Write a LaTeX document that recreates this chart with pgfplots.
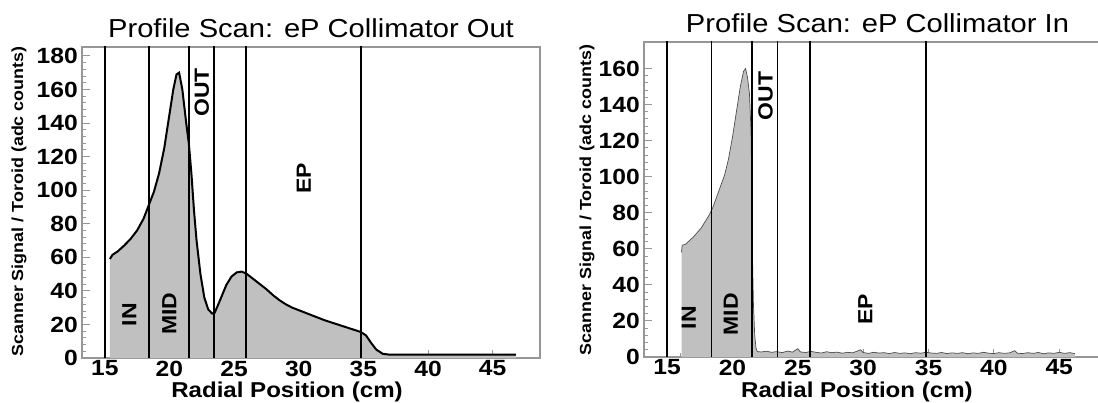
\documentclass[border=0pt]{standalone}
\usepackage{fontspec}
\setmainfont{Liberation Sans}[FakeStretch=1.12]
\usepackage{pgfplots}
\pgfplotsset{compat=1.18}
\definecolor{histfill}{RGB}{192,192,192}
\definecolor{framegray}{RGB}{150,150,150}

\pgfplotstableread{
x y
15.40 59
15.60 61.5
16.00 63.5
16.50 67
17.00 71
17.50 76
18.00 83
18.40 91
18.80 99
19.20 110
19.60 125
20.00 145
20.30 160
20.55 169
20.75 170
21.00 160
21.30 140
21.50 128
21.70 110
21.90 88
22.10 70
22.40 50
22.70 36
23.00 29
23.30 26.5
23.50 27
23.70 30.5
24.00 36
24.40 43.5
24.80 48.5
25.20 51
25.60 51.5
26.00 50
26.50 47
27.00 44
27.50 41
28.00 37.5
28.50 34.5
29.00 32
29.50 30
30.00 28.5
31.00 25.5
32.00 22.5
33.00 20
34.00 17.5
34.80 15.5
35.20 13.5
35.60 9
36.00 5
36.50 2.5
37.00 2
40.00 2
45.00 2
46.80 2
}\collout

\pgfplotstableread{
x y
16.10 58
16.15 62
16.40 62.5
16.70 64.5
17.00 66.5
17.30 69
17.60 71.5
17.90 75
18.20 78.5
18.50 83
18.80 89
19.10 95
19.40 101
19.70 110
20.00 122
20.30 136
20.60 150
20.85 158.5
21.00 160
21.15 155
21.30 146
21.42 125
21.48 90
21.53 55
21.60 30
21.70 12
21.80 5
21.90 3
22.20 2.8
22.60 3.2
23.00 2.6
23.40 3.0
23.80 2.4
24.20 3.3
24.60 2.7
25.00 4.6
25.20 2.8
25.60 2.5
26.00 3.1
26.40 2.6
26.80 2.2
27.20 2.9
27.60 2.4
28.00 2.7
28.40 2.1
28.80 2.6
29.20 2.3
29.80 4.0
30.00 2.5
30.40 2.0
30.80 2.6
31.20 2.2
31.60 2.4
32.00 1.9
32.40 2.5
32.80 2.0
33.20 2.3
33.60 1.8
34.00 2.4
34.40 2.1
34.80 2.6
35.20 2.2
35.60 2.0
36.00 2.5
36.40 1.9
36.80 2.3
37.20 2.0
37.60 2.4
38.00 1.8
38.40 2.3
38.80 2.0
39.20 2.6
39.60 2.1
40.00 1.9
40.40 2.4
40.80 2.0
41.20 2.3
41.60 3.5
41.80 2.1
42.20 1.9
42.60 2.4
43.00 2.0
43.40 2.5
43.80 1.8
44.20 2.3
44.60 2.0
45.00 2.6
45.40 2.0
45.80 2.4
46.20 1.9
}\collin

\tikzset{
  region/.style={rotate=90, font=\bfseries\fontsize{20.5}{20.5}\selectfont, inner sep=0pt},
  sep/.style={black, line width=1.8pt},
}

\pgfplotsset{rootstyle/.style={
  scale only axis,
  axis line style={framegray, line width=1.1pt},
  tick style={framegray, line width=1pt},
  major tick length=8pt, minor tick length=4pt,
  tick align=inside, tick pos=left,
  xtick={15,20,...,45}, minor x tick num=4,
  ytick={0,20,...,180}, minor y tick num=4,
  ymin=0,
  /pgf/number format/assume math mode=true,
  ticklabel style={font=\bfseries\fontsize{22}{22}\selectfont, inner sep=0pt},
  xticklabel style={yshift=-2.5pt},
  yticklabel style={xshift=-4pt},
  title style={font=\fontsize{26}{26}\selectfont, anchor=base, inner sep=0pt},
  xlabel style={font=\bfseries\fontsize{21.5}{21.5}\selectfont, anchor=base, inner sep=0pt},
  ylabel style={font=\bfseries\fontsize{16}{16}\selectfont, anchor=center, inner sep=0pt},
  xlabel={Radial Position (cm)},
  ylabel={Scanner Signal / Toroid (adc counts)},
}}

\begin{document}
\begin{tikzpicture}
\useasboundingbox (0,0) rectangle (1098pt,402pt);

\begin{axis}[rootstyle,
  at={(82pt,44pt)}, anchor=south west, width=458pt, height=311pt,
  xmin=13.24, xmax=48.66, ymax=185.3,
  title={Profile Scan: eP Collimator Out},
  title style={at={(0.5,1.0113)}},
  xlabel style={at={(0.4476,-0.1265)}},
  ylabel style={at={(-0.1376,0.503)}}]
\addplot[draw=none, fill=histfill] table {\collout} \closedcycle;
\addplot[black, line width=2pt] table {\collout};
\addplot[sep] coordinates {(15,0) (15,200)};
\addplot[sep] coordinates {(18.4,0) (18.4,200)};
\addplot[sep] coordinates {(21.5,0) (21.5,200)};
\addplot[sep] coordinates {(23.45,0) (23.45,200)};
\addplot[sep] coordinates {(25.95,0) (25.95,200)};
\addplot[sep] coordinates {(34.8,0) (34.8,200)};
\node[region] at (axis cs:16.9,25.8) {IN};
\node[region] at (axis cs:20.0,26.4) {MID};
\node[region] at (axis cs:22.5,158.2) {OUT};
\node[region] at (axis cs:30.4,107) {EP};
\end{axis}

\begin{axis}[rootstyle,
  at={(644pt,45pt)}, anchor=south west, width=467pt, height=315pt,
  xmin=13.23, xmax=48.96, ymax=174.7,
  ytick={0,20,...,160},
  title={Profile Scan: eP Collimator In},
  title style={at={(0.5,1.011)}},
  xlabel style={at={(0.456,-0.1275)}},
  ylabel style={at={(-0.122,0.498)}}]
\addplot[draw=none, fill=histfill] table {\collin} \closedcycle;
\addplot[black!70, line width=0.7pt] table {\collin};
\addplot[sep] coordinates {(15,0) (15,200)};
\addplot[sep] coordinates {(18.4,0) (18.4,200)};
\addplot[sep] coordinates {(21.5,0) (21.5,200)};
\addplot[sep] coordinates {(23.45,0) (23.45,200)};
\addplot[sep] coordinates {(25.95,0) (25.95,200)};
\addplot[sep] coordinates {(34.8,0) (34.8,200)};
\node[region] at (axis cs:16.66,21.8) {IN};
\node[region] at (axis cs:19.87,23.7) {MID};
\node[region] at (axis cs:22.54,144.8) {OUT};
\node[region] at (axis cs:30.16,26.5) {EP};
\end{axis}
\end{tikzpicture}
\end{document}
